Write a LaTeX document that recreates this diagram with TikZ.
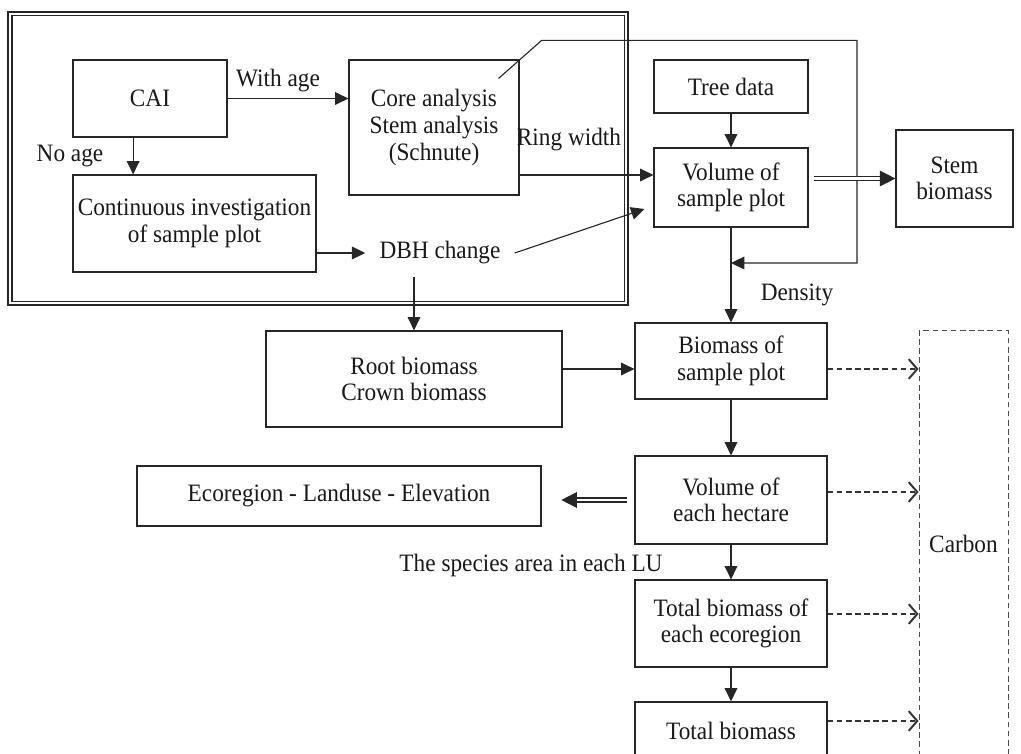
\documentclass[tikz,border=0pt]{standalone}
\usepackage{fontspec}
\setmainfont[FakeStretch=0.93]{Liberation Serif}
\usetikzlibrary{arrows.meta}

\begin{document}
\begin{tikzpicture}[x=0.025cm,y=-0.025cm,
  every node/.style={font=\fontsize{17.8}{18.9}\selectfont, text=black!90},
  box/.style={draw=black!85, line width=0.8pt, align=center, inner sep=0pt},
  arr/.style={draw=black!85, line width=0.8pt, -{Triangle[length=9.5pt,width=9pt]}},
  dblarr/.style={draw=black!85, double=white, double distance=2pt, line width=0.9pt, -{Triangle[length=11pt,width=11pt]}},
  dasharr/.style={draw=black!80, line width=0.8pt, dash pattern=on 4pt off 2.5pt, -{Straight Barb[length=6pt,width=14pt,line width=1.4pt]}}]
\clip (0,0) rectangle (1021,754);

% frame
\draw[draw=black!85, line width=0.8pt] (8,12) rectangle (628,305);
\draw[draw=black!85, line width=0.8pt] (12,15.5) rectangle (624.5,301.5);

\node[box, minimum width=3.85cm, minimum height=1.925cm] (cai) at (150,98.5) {CAI};
\node[box, minimum width=4.25cm, minimum height=3.375cm] (core) at (434,127.5) {Core analysis\\Stem analysis\\(Schnute)};
\node[box, minimum width=6.075cm, minimum height=2.425cm] (cont) at (194.5,223.5) {Continuous investigation\\of sample plot};
\node[inner xsep=0.35cm, inner ysep=0.3cm] (dbh) at (440,253) {DBH change};

\node[box, minimum width=3.85cm, minimum height=1.325cm] (tree) at (731,86.5) {Tree data};
\node[box, minimum width=3.85cm, minimum height=1.975cm] (vol) at (731,187.5) {Volume of\\sample plot};
\node[box, minimum width=2.925cm, minimum height=2.425cm] (stem) at (954.5,178.5) {Stem\\biomass};

\node[box, minimum width=7.4cm, minimum height=2.4cm] (root) at (414,379) {Root biomass\\Crown biomass};
\node[box, minimum width=4.8cm, minimum height=1.9cm] (bio) at (731,361) {Biomass of\\sample plot};
\node[box, minimum width=4.8cm, minimum height=2.2cm] (hect) at (731,500) {Volume of\\each hectare};
\node[box, minimum width=10.1cm, minimum height=1.5cm] (eco) at (339,496) {Ecoregion - Landuse - Elevation};
\node[box, minimum width=4.8cm, minimum height=2.175cm] (toteco) at (731,623.5) {Total biomass of\\each ecoregion};
\node[box, minimum width=4.8cm, minimum height=1.45cm] (total) at (731,731) {Total biomass};
\node[box, draw=black!70, line width=0.7pt, dash pattern=on 4pt off 2.5pt,
  minimum width=2.225cm, minimum height=10.65cm] (carbon) at (963.5,544) {Carbon};

% labels
\node (withage) at (278,81) {With age};
\node (noage) at (70,156) {No age};
\node (ring) at (569,140) {Ring width};
\node (density) at (797,295) {Density};
\node (species) at (531,565) {The species area in each LU};

\coordinate (rw) at (0,175);
\coordinate (rb) at (0,369);
\coordinate (fb) at (857,263);

\draw[arr] (cai.east) -- (cai.east -| core.west);
\draw[arr] ([xshift=-12]cai.south) -- ([xshift=-12]cai.south |- cont.north);
\draw[arr] (cont.east |- dbh.west) -- (dbh.west);
\draw[arr] (dbh.south -| root.north) -- (root.north);
\draw[arr] (dbh.east) -- ([shift={(-9,21.5)}]vol.west);
\draw[arr] (core.east |- rw) -- (vol.west |- rw);
\draw[arr] (tree) -- (vol);
\draw[arr] ([shift={(-21,19)}]core.north east) -- ([shift={(22,-19)}]core.north east) -| (fb) -- (fb -| vol.south);
\draw[dblarr, shorten <=4pt] (vol.east |- stem.west) -- (stem.west);
\draw[arr] (vol) -- (bio);
\draw[arr] (root.east |- rb) -- (bio.west |- rb);
\draw[arr] (bio) -- (hect);
\draw[dblarr, shorten <=5.5pt, shorten >=14pt] (hect.west) -- (eco.east |- hect.west);
\draw[arr] (hect) -- (toteco);
\draw[arr] (toteco) -- (total);

\foreach \n/\y in {bio/369,hect/492,toteco/614,total/721}
  \draw[dasharr] (\n.east |- 0,\y) -- (carbon.west |- 0,\y);
\end{tikzpicture}
\end{document}
